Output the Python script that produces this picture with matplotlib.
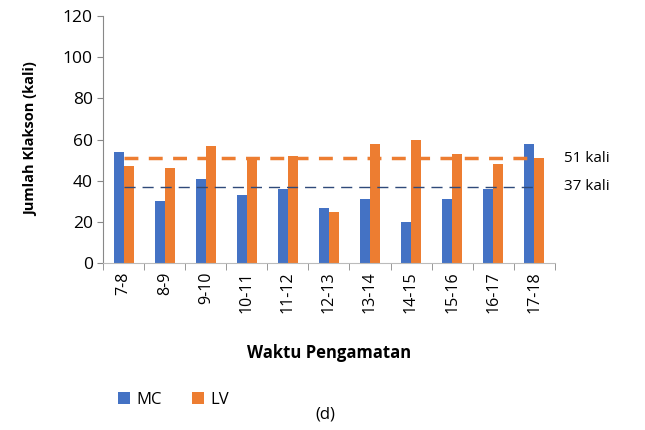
import matplotlib
matplotlib.use("Agg")
import matplotlib.pyplot as plt
import numpy as np

# --- Data ---
categories = ["7-8", "8-9", "9-10", "10-11", "11-12", "12-13",
              "13-14", "14-15", "15-16", "16-17", "17-18"]
mc_values = [54, 30, 41, 33, 36, 27, 31, 20, 31, 36, 58]
lv_values = [47, 46, 57, 51, 52, 25, 58, 60, 53, 48, 51]
lv_avg = 51
mc_avg = 37

MC_COLOR = "#4472C4"
LV_COLOR = "#ED7D31"

plt.rcParams['font.family'] = ['Open Sans', 'DejaVu Sans']

fig = plt.figure(figsize=(6.45, 4.3), dpi=100)
ax = fig.add_axes([0.16, 0.388, 0.70, 0.575])

x = np.arange(len(categories))
w = 0.24
ax.bar(x - w / 2, mc_values, width=w, color=MC_COLOR, label="MC", zorder=2)
ax.bar(x + w / 2, lv_values, width=w, color=LV_COLOR, label="LV", zorder=2)

# average lines
ax.plot([x[0], x[-1]], [lv_avg, lv_avg], color=LV_COLOR, lw=2.5,
        dashes=(4, 3), zorder=3)
ax.plot([x[0], x[-1]], [mc_avg, mc_avg], color="#2F4A7A", lw=1.0,
        dashes=(8, 5), zorder=3)
ax.text(1.02, lv_avg, f"{lv_avg} kali", transform=ax.get_yaxis_transform(),
        va="center", ha="left", fontsize=11)
ax.text(1.02, mc_avg, f"{mc_avg} kali", transform=ax.get_yaxis_transform(),
        va="center", ha="left", fontsize=11)

ax.set_xlim(-0.5, len(categories) - 0.5)
ax.set_ylim(0, 120)
ax.set_yticks(range(0, 121, 20))
ax.tick_params(axis="y", labelsize=12.5, length=4, color="#888888")

ax.set_xticks(x)
ax.set_xticklabels(categories, rotation=90, fontsize=11.5)
ax.tick_params(axis="x", length=0, pad=6)
ax.set_xticks(np.arange(-0.5, len(categories), 1.0), minor=True)
ax.tick_params(axis="x", which="minor", length=5, color="#888888")

for side in ["top", "right"]:
    ax.spines[side].set_visible(False)
ax.spines["left"].set_color("#888888")
ax.spines["bottom"].set_color("#BBBBBB")

ax.set_ylabel("Jumlah Klakson (kali)", fontsize=10.5, fontweight="bold",
              labelpad=18)
ax.set_xlabel("Waktu Pengamatan", fontsize=12, fontweight="bold", labelpad=22)

ax.legend(loc="upper left", bbox_to_anchor=(0.0, -0.46), ncol=2, frameon=False,
          fontsize=12, handlelength=0.7, handleheight=0.7, columnspacing=1.8,
          handletextpad=0.4)

fig.text(0.505, 0.035, "(d)", ha="center", va="center", fontsize=12)

fig.savefig("out.png", dpi=100)
